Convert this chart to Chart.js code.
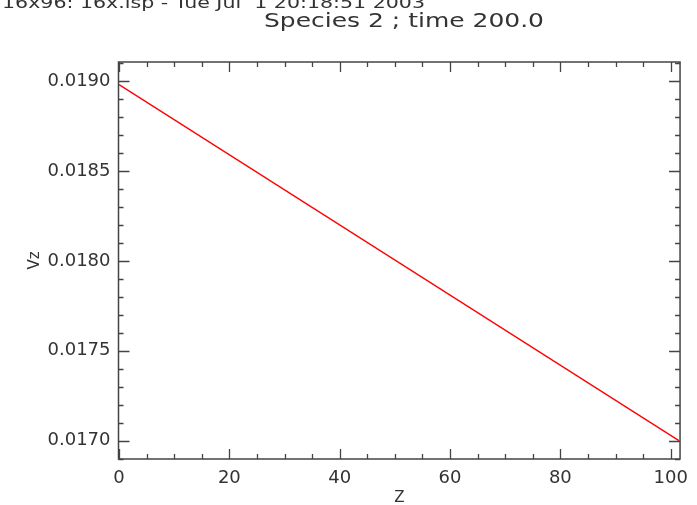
<!DOCTYPE html>
<html><head><meta charset="utf-8">
<script src="https://cdn.jsdelivr.net/npm/chart.js@4/dist/chart.umd.min.js"></script>
<style>html,body{margin:0;padding:0;background:#fff}#wrap{width:697px;height:505px}</style>
</head><body><div id="wrap"><canvas id="c" width="697" height="505"></canvas></div>
<script>
const headerText = "16x96: 16x.isp - Tue Jul  1 20:18:51 2003";
const titleText = "Species 2 ; time 200.0";
const xLabel = "Z";
const yLabel = "Vz";
const zValues = [0, 101.5];
const vzValues = [0.01898, 0.01700];
const xTicks = [0, 20, 40, 60, 80, 100];
const yTicks = [0.0170, 0.0175, 0.0180, 0.0185, 0.0190];
const xMinorStep = 5;
const yMinorStep = 0.0001;
const xRange = [-0.1, 101.7];
const yRange = [0.016898, 0.019106];

const FONT = "DejaVu Sans";
const TXT = "#333";
const AX = "#444";

function stretchedText(ctx, text, x, y, font, targetW, align) {
  ctx.font = font;
  const w = ctx.measureText(text).width;
  const sx = targetW / w;
  ctx.save();
  ctx.textAlign = 'left';
  const left = align === 'center' ? x - targetW / 2 : x;
  ctx.translate(left, y);
  ctx.scale(sx, 1);
  ctx.fillText(text, 0, 0);
  ctx.restore();
}

const framePlugin = {
  id: 'frame',
  afterDatasetsDraw(chart) {
    const {ctx, chartArea: a, scales: {x, y}} = chart;
    ctx.save();
    ctx.strokeStyle = AX;
    ctx.lineWidth = 1.5;
    ctx.strokeRect(a.left, a.top, a.right - a.left, a.bottom - a.top);
    ctx.lineWidth = 1.3;
    ctx.beginPath();
    const xs = Math.ceil(xRange[0] / xMinorStep);
    for (let i = xs; i * xMinorStep <= xRange[1]; i++) {
      const v = i * xMinorStep;
      const px = Math.round(x.getPixelForValue(v)) + 0.5;
      const len = xTicks.includes(v) ? 10 : 5;
      ctx.moveTo(px, a.bottom); ctx.lineTo(px, a.bottom - len);
      ctx.moveTo(px, a.top); ctx.lineTo(px, a.top + len);
    }
    const ys = Math.ceil(yRange[0] / yMinorStep - 1e-6);
    for (let i = ys; i * yMinorStep <= yRange[1] + 1e-12; i++) {
      const v = i * yMinorStep;
      const py = Math.round(y.getPixelForValue(v)) + 0.5;
      const major = i % 5 === 0;
      const len = major ? 11 : 5;
      ctx.moveTo(a.left, py); ctx.lineTo(a.left + len, py);
      ctx.moveTo(a.right, py); ctx.lineTo(a.right - len, py);
    }
    ctx.stroke();
    ctx.restore();
  },
  afterDraw(chart) {
    const ctx = chart.ctx;
    ctx.save();
    ctx.fillStyle = TXT;
    ctx.textBaseline = "alphabetic";
    stretchedText(ctx, headerText, 2, 8, "15px '" + FONT + "'", 423, 'left');
    stretchedText(ctx, titleText, 404, 27, "19px '" + FONT + "'", 280, 'center');
    ctx.restore();
  }
};

new Chart(document.getElementById('c'), {
  type: 'line',
  data: {
    datasets: [{
      data: zValues.map((z, i) => ({x: z, y: vzValues[i]})),
      borderColor: '#ff0000',
      borderWidth: 1.3,
      pointRadius: 0,
      tension: 0,
      fill: false
    }]
  },
  options: {
    responsive: false,
    animation: false,
    layout: {padding: {top: 62, right: 9.5, left: 0, bottom: 0}},
    plugins: {legend: {display: false}, tooltip: {enabled: false}, title: {display: false}},
    scales: {
      x: {
        type: 'linear', min: xRange[0], max: xRange[1],
        afterBuildTicks: s => { s.ticks = xTicks.map(v => ({value: v})); },
        afterFit: s => { s.height = 46; },
        grid: {display: false, drawTicks: false},
        border: {display: false},
        ticks: {color: TXT, font: {family: FONT, size: 18}, padding: 9, maxRotation: 0, callback: v => String(v)},
        title: {display: true, text: xLabel, color: TXT, font: {family: FONT, size: 15, lineHeight: 1}, padding: {top: 0, bottom: -1}}
      },
      y: {
        type: 'linear', min: yRange[0], max: yRange[1],
        afterBuildTicks: s => { s.ticks = yTicks.map(v => ({value: v})); },
        afterFit: s => { s.width = 118.5; },
        grid: {display: false, drawTicks: false},
        border: {display: false},
        ticks: {color: TXT, font: {family: FONT, size: 18}, padding: 8, callback: v => v.toFixed(4)},
        title: {display: true, text: yLabel, color: TXT, font: {family: FONT, size: 15, lineHeight: 1}, padding: {top: 28, bottom: 0}}
      }
    }
  },
  plugins: [framePlugin]
});
</script></body></html>
